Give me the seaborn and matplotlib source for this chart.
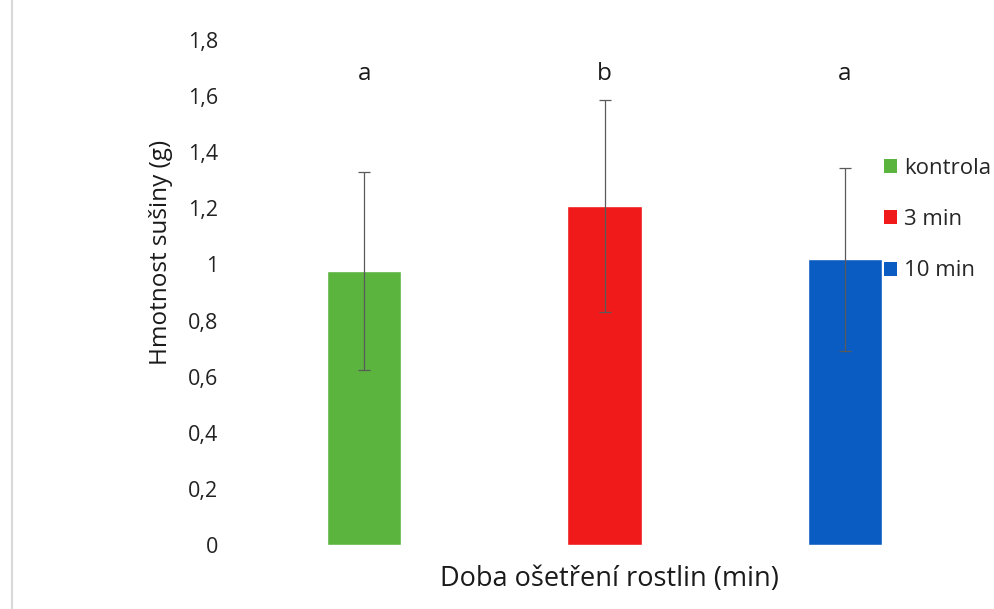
import matplotlib
matplotlib.use("Agg")
import matplotlib.pyplot as plt
from matplotlib.patches import Patch
from matplotlib.lines import Line2D
import seaborn as sns
import pandas as pd

# Data
categories = ["kontrola", "3 min", "10 min"]
mean_mass = [0.976, 1.208, 1.019]
sd_mass = [0.352, 0.378, 0.326]
group_letters = ["a", "b", "a"]
y_ticks = [0, 0.2, 0.4, 0.6, 0.8, 1.0, 1.2, 1.4, 1.6, 1.8]
y_tick_labels = ["0", "0,2", "0,4", "0,6", "0,8", "1", "1,2", "1,4", "1,6", "1,8"]
bar_colors = ["#5AB43E", "#F01A1A", "#0A5CC2"]

sns.set_theme(style="white")
plt.rcParams["font.family"] = ["Open Sans", "DejaVu Sans"]

df = pd.DataFrame({"doba": categories, "hmotnost": mean_mass})

fig = plt.figure(figsize=(9.95, 6.09), dpi=100)
ax = fig.add_axes([244 / 995, 64 / 609, 721 / 995, 505 / 609])

sns.barplot(data=df, x="doba", y="hmotnost", hue="doba", order=categories,
            hue_order=categories, palette=bar_colors, width=0.31,
            saturation=1, legend=False, ax=ax)

ax.errorbar(x=list(range(len(categories))), y=mean_mass, yerr=sd_mass,
            fmt="none", ecolor="#5a5a5a", elinewidth=0.9, capsize=4,
            capthick=0.9)

for i, letter in enumerate(group_letters):
    ax.text(i, 1.68, letter, ha="center", va="center", fontsize=17.5,
            color="#1a1a1a")

ax.set_xlim(-0.5, 2.5)
ax.set_ylim(0, 1.8)
ax.set_yticks(y_ticks)
ax.set_yticklabels(y_tick_labels, fontsize=15.5, color="#222222")
ax.set_xticks([])
ax.set_xlabel("")
ax.set_ylabel("")
ax.tick_params(axis="y", length=0, pad=18.5)
for s in ax.spines.values():
    s.set_visible(False)

fig.text(161 / 995, 1 - 252 / 609, "Hmotnost sušiny (g)", rotation=90,
         ha="center", va="center", fontsize=17.5, color="#1a1a1a")
fig.text(609 / 995, 1 - 579 / 609, "Doba ošetření rostlin (min)",
         ha="center", va="center", fontsize=19.5, color="#1a1a1a")

handles = [Patch(facecolor=c, edgecolor="none") for c in bar_colors]
fig.legend(handles, categories, loc="upper left",
           bbox_to_anchor=(884 / 995, 1 - 158 / 609), frameon=False,
           fontsize=16, handlelength=0.6, handleheight=0.6,
           handletextpad=0.3, labelspacing=1.36, borderaxespad=0,
           borderpad=0)

# faint left border line
fig.add_artist(Line2D([12 / 995, 12 / 995], [0, 1], color="#d9d9d9", lw=1.5))

fig.savefig("out.png", dpi=100)
